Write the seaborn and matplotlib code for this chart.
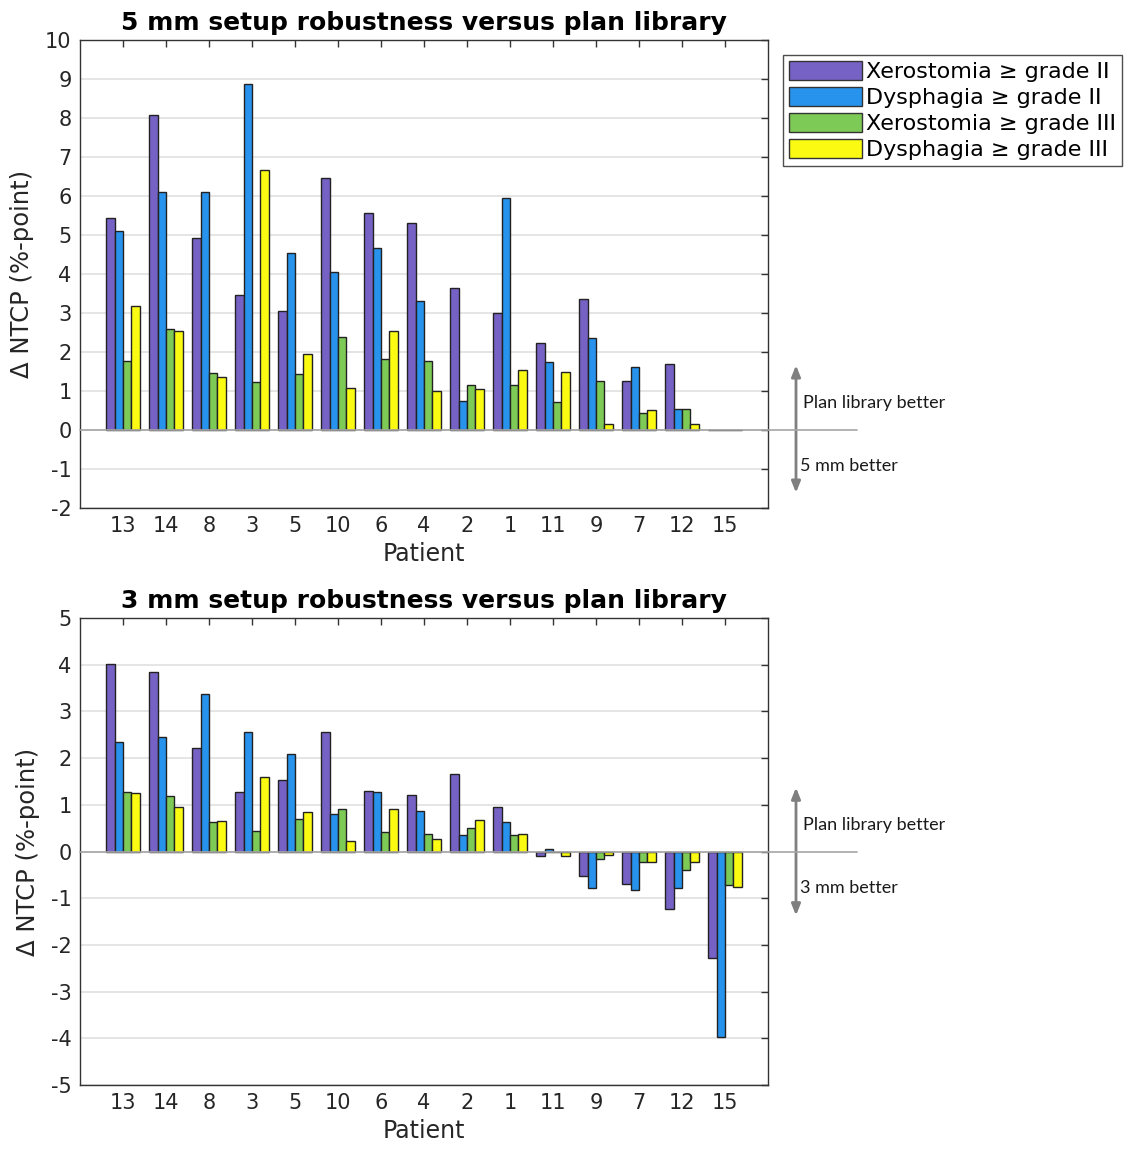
import numpy as np
import pandas as pd
import seaborn as sns
import matplotlib.pyplot as plt
from matplotlib.patches import Patch

# Patients in plotted order
patients = ["13", "14", "8", "3", "5", "10", "6", "4", "2", "1", "11", "9", "7", "12", "15"]

series_names = ["Xerostomia \u2265 grade II", "Dysphagia \u2265 grade II",
                "Xerostomia \u2265 grade III", "Dysphagia \u2265 grade III"]

# Delta NTCP, 5 mm setup robustness vs plan library (%-point)
xero2_5mm = [5.43, 8.08, 4.93, 3.47, 3.05, 6.45, 5.56, 5.32, 3.65, 2.99, 2.23, 3.35, 1.25, 1.69, 0.0]
dysp2_5mm = [5.11, 6.11, 6.11, 8.88, 4.54, 4.05, 4.66, 3.32, 0.74, 5.96, 1.74, 2.35, 1.61, 0.55, 0.0]
xero3_5mm = [1.77, 2.59, 1.47, 1.23, 1.43, 2.38, 1.83, 1.77, 1.16, 1.16, 0.71, 1.25, 0.44, 0.55, 0.0]
dysp3_5mm = [3.17, 2.53, 1.35, 6.66, 1.96, 1.08, 2.53, 0.99, 1.04, 1.55, 1.49, 0.16, 0.52, 0.16, 0.0]

# Delta NTCP, 3 mm setup robustness vs plan library (%-point)
xero2_3mm = [4.02, 3.84, 2.22, 1.28, 1.54, 2.55, 1.30, 1.21, 1.65, 0.96, -0.09, -0.52, -0.70, -1.23, -2.27]
dysp2_3mm = [2.35, 2.45, 3.37, 2.55, 2.09, 0.80, 1.28, 0.86, 0.35, 0.63, 0.06, -0.78, -0.83, -0.78, -3.98]
xero3_3mm = [1.28, 1.18, 0.63, 0.44, 0.70, 0.90, 0.42, 0.38, 0.51, 0.35, -0.02, -0.17, -0.22, -0.40, -0.72]
dysp3_3mm = [1.25, 0.96, 0.65, 1.59, 0.85, 0.22, 0.90, 0.27, 0.67, 0.38, -0.09, -0.07, -0.22, -0.22, -0.75]

colors = ["#7662C4", "#2793EC", "#7DCA56", "#FAFA12"]


def long_frame(*cols):
    frames = []
    for name, vals in zip(series_names, cols):
        frames.append(pd.DataFrame({"Patient": patients, "NTCP": vals, "Endpoint": name}))
    return pd.concat(frames, ignore_index=True)


df5 = long_frame(xero2_5mm, dysp2_5mm, xero3_5mm, dysp3_5mm)
df3 = long_frame(xero2_3mm, dysp2_3mm, xero3_3mm, dysp3_3mm)

sns.set_theme(style="white")
plt.rcParams["font.family"] = ["DejaVu Sans"]

fig = plt.figure(figsize=(11.3, 11.49), dpi=100)
W, H = 1130, 1149
ax_top = fig.add_axes([80 / W, 1 - 508 / H, 688 / W, 468 / H])
ax_bot = fig.add_axes([80 / W, 1 - 1085 / H, 688 / W, 467 / H])

panels = [
    (ax_top, df5, "5 mm setup robustness versus plan library", (-2, 10),
     (1.66, -1.61), (0.69, -0.92), "5 mm better"),
    (ax_bot, df3, "3 mm setup robustness versus plan library", (-5, 5),
     (1.37, -1.37), (0.56, -0.79), "3 mm better"),
]

for ax, df, title, ylim, arrow_y, text_y, low_text in panels:
    sns.barplot(data=df, x="Patient", y="NTCP", hue="Endpoint", order=patients,
                hue_order=series_names, palette=colors, width=0.77,
                edgecolor="#222222", linewidth=1.0, saturation=1, ax=ax,
                legend=False, zorder=3)
    ax.set_xlim(-1, len(patients))
    ax.set_ylim(*ylim)
    ax.set_yticks(np.arange(ylim[0], ylim[1] + 1, 1))
    ax.set_yticklabels([str(v) for v in range(ylim[0], ylim[1] + 1)])
    ax.yaxis.grid(True, color="#E3E3E3", linewidth=1.3, zorder=0)
    ax.set_axisbelow(True)
    ax.tick_params(axis="both", direction="in", length=5, width=1, color="#333333",
                   labelsize=15, top=True, right=True, labelcolor="#262626", pad=6)
    for sp in ax.spines.values():
        sp.set_color("#333333")
        sp.set_linewidth(1.0)
    ax.set_title(title, fontsize=18, fontweight="bold", pad=7, color="black")
    ax.set_xlabel("Patient", fontsize=17, color="#262626", labelpad=4)
    ax.set_ylabel("\u0394 NTCP (%-point)", fontsize=17.5, color="#262626", labelpad=8)

    trans = ax.get_yaxis_transform()
    # zero reference line, extended past the right spine
    ax.plot([0, 1.129], [0, 0], transform=trans, color="#A6A6A6", lw=1.2,
            clip_on=False, zorder=4)
    ax.annotate("", xy=(1.0407, arrow_y[0]), xytext=(1.0407, arrow_y[1]),
                xycoords=trans, textcoords=trans,
                arrowprops=dict(arrowstyle="<|-|>,head_length=0.55,head_width=0.22",
                                color="#7F7F7F", lw=2, shrinkA=0, shrinkB=0),
                annotation_clip=False)
    ax.text(1.051, text_y[0], "Plan library better", transform=trans, fontsize=13,
            family="Lato", va="center", ha="left", color="#1A1A1A")
    ax.text(1.047, text_y[1], low_text, transform=trans, fontsize=13,
            family="Lato", va="center", ha="left", color="#1A1A1A")

handles = [Patch(facecolor=c, edgecolor="#333333", linewidth=1.0) for c in colors]
leg = fig.legend(handles, series_names, loc="upper left",
                 bbox_to_anchor=(783 / W, 1 - 55 / H), bbox_transform=fig.transFigure,
                 fontsize=16, frameon=True, fancybox=False, edgecolor="#222222",
                 handlelength=3.3, handleheight=1.0, handletextpad=0.2,
                 labelspacing=0.2, borderpad=0.25, borderaxespad=0)
leg.get_frame().set_linewidth(1.0)
for t in leg.get_texts():
    t.set_color("black")

fig.savefig("out.png", dpi=100, facecolor="white")
